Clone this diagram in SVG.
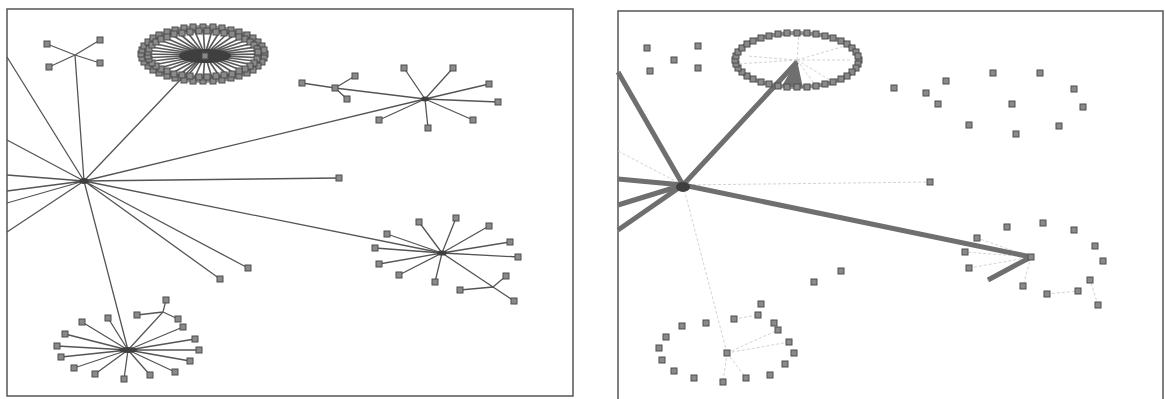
<svg xmlns="http://www.w3.org/2000/svg" xmlns:xlink="http://www.w3.org/1999/xlink" width="1165" height="399" viewBox="0 0 1165 399">
<style>
.frame{fill:none;stroke:#555;stroke-width:1.5}
.edge{fill:none;stroke:#555;stroke-width:1.3}
.spoke{fill:none;stroke:#5a5a5a;stroke-width:1.7}
.thick{fill:none;stroke:#6f6f6f;stroke-width:5;stroke-linejoin:round}
.faint{fill:none;stroke:#d4d4d4;stroke-width:1;stroke-dasharray:3 2}
.band{fill:none;stroke:#8f8f8f}
.node{fill:#8a8a8a;stroke:#4d4d4d;stroke-width:1}
.hub{fill:#3f3f3f}
</style>
<defs>
<rect id="n" x="-3" y="-3" width="6" height="6" class="node"/>
</defs>
<rect width="1165" height="399" fill="#fff"/>
<g id="frames">
<rect class="frame" x="7" y="9" width="566" height="387"/>
<rect class="frame" x="618" y="11" width="545" height="390"/>
</g>
<g id="connectors">
<ellipse class="band" cx="203" cy="54" rx="59" ry="25" stroke-width="8"/>
<ellipse class="band" cx="797" cy="60" rx="62" ry="27" stroke-width="4"/>
<path class="edge" d="M84 181L7 57M84 181L7 140M84 181L7 175M84 181L7 191M84 181L7 203M84 181L7 232M84 181L75 55M84 181L203 56M84 181L425 99M84 181L339 178M84 181L442 253M84 181L248 268M84 181L220 279M84 181L128 350"/>
<path class="edge" d="M75 55L47 44M75 55L100 40M75 55L49 67M75 55L100 63"/>
<path class="edge" d="M425 99L404 68M425 99L453 68M425 99L489 84M425 99L498 102M425 99L473 120M425 99L428 128M425 99L379 120M425 99L335 88L302 83M335 88L355 76M335 88L347 99"/>
<path class="edge" d="M442 253L419 222M442 253L456 218M442 253L489 226M442 253L510 242M442 253L518 257M442 253L493 287L514 301M493 287L506 276M493 287L460 290M442 253L387 234M442 253L375 248M442 253L379 264M442 253L399 275M442 253L435 282"/>
<path class="edge" d="M128 350L82 322M128 350L108 318M128 350L65 334M128 350L57 346M128 350L61 357M128 350L74 368M128 350L95 374M128 350L124 379M128 350L150 375M128 350L175 372M128 350L190 361M128 350L199 350M128 350L195 339M128 350L183 327M128 350L163 312L166 300M163 312L137 315M163 312L178 319"/>
<path class="spoke" d="M205 55L265 54M205 55L264 58M205 55L262 62M205 55L258 66M205 55L253 70M205 55L247 73M205 55L239 76M205 55L231 78M205 55L222 80M205 55L213 81M205 55L203 81M205 55L193 81M205 55L184 80M205 55L175 78M205 55L167 76M205 55L159 73M205 55L153 70M205 55L148 66M205 55L144 62M205 55L142 58M205 55L141 54M205 55L142 50M205 55L144 46M205 55L148 42M205 55L153 38M205 55L159 35M205 55L167 32M205 55L175 30M205 55L184 28M205 55L193 27M205 55L203 27M205 55L213 27M205 55L222 28M205 55L231 30M205 55L239 32M205 55L247 35M205 55L253 38M205 55L258 42M205 55L262 46M205 55L264 50"/>
<path class="faint" d="M797 60L736 64M797 60L747 56M797 60L799 33M797 60L845 46M797 60L833 82M797 60L816 86M797 60L852 60M683 185L618 151M683 185L727 353M683 185L930 182M727 353L778 330M727 353L789 342M727 353L723 382M727 353L746 378M734 319L758 315M1031 257L965 252M1031 257L977 238M1031 257L969 268M1031 257L1023 286M1047 294L1078 291M1098 305L1090 280"/>
<path class="thick" d="M683 185L618 72M683 185L797 62M683 185L618 179M683 185L618 205M683 185L618 230M683 185L1031 257L988 280"/>
<polygon points="782,86 797,60 803,88" fill="#6f6f6f"/>
</g>
<g id="hubs">
<ellipse class="hub" cx="84" cy="181" rx="5" ry="3"/>
<ellipse class="hub" cx="205" cy="56" rx="26" ry="7"/>
<ellipse class="hub" cx="425" cy="99" rx="4" ry="2.5"/>
<ellipse class="hub" cx="442" cy="253" rx="5" ry="2.5"/>
<ellipse class="hub" cx="128" cy="350" rx="9" ry="3"/>
<ellipse class="hub" cx="683" cy="187" rx="7" ry="5" fill="#777"/>
</g>
<g id="left-star">
<use id="l1" href="#n" x="47" y="44"/><use id="l2" href="#n" x="100" y="40"/><use id="l3" href="#n" x="49" y="67"/><use id="l4" href="#n" x="100" y="63"/>
</g>
<g id="left-ellipse">
<use href="#n" x="265" y="54"/><use href="#n" x="264" y="58"/><use href="#n" x="262" y="62"/><use href="#n" x="258" y="66"/><use href="#n" x="253" y="70"/><use href="#n" x="247" y="73"/><use href="#n" x="239" y="76"/><use href="#n" x="231" y="78"/><use href="#n" x="222" y="80"/><use href="#n" x="213" y="81"/><use href="#n" x="203" y="81"/>
<use href="#n" x="193" y="81"/><use href="#n" x="184" y="80"/><use href="#n" x="175" y="78"/><use href="#n" x="167" y="76"/><use href="#n" x="159" y="73"/><use href="#n" x="153" y="70"/><use href="#n" x="148" y="66"/><use href="#n" x="144" y="62"/><use href="#n" x="142" y="58"/><use href="#n" x="141" y="54"/>
<use href="#n" x="142" y="50"/><use href="#n" x="144" y="46"/><use href="#n" x="148" y="42"/><use href="#n" x="153" y="38"/><use href="#n" x="159" y="35"/><use href="#n" x="167" y="32"/><use href="#n" x="175" y="30"/><use href="#n" x="184" y="28"/><use href="#n" x="193" y="27"/><use href="#n" x="203" y="27"/>
<use href="#n" x="213" y="27"/><use href="#n" x="222" y="28"/><use href="#n" x="231" y="30"/><use href="#n" x="239" y="32"/><use href="#n" x="247" y="35"/><use href="#n" x="253" y="38"/><use href="#n" x="258" y="42"/><use href="#n" x="262" y="46"/><use href="#n" x="264" y="50"/>
<use href="#n" x="258" y="56"/><use href="#n" x="257" y="59"/><use href="#n" x="254" y="63"/><use href="#n" x="250" y="66"/><use href="#n" x="245" y="69"/><use href="#n" x="239" y="71"/><use href="#n" x="232" y="74"/><use href="#n" x="224" y="75"/><use href="#n" x="216" y="76"/><use href="#n" x="207" y="77"/>
<use href="#n" x="199" y="77"/><use href="#n" x="190" y="76"/><use href="#n" x="182" y="75"/><use href="#n" x="174" y="74"/><use href="#n" x="167" y="71"/><use href="#n" x="161" y="69"/><use href="#n" x="156" y="66"/><use href="#n" x="152" y="63"/><use href="#n" x="149" y="59"/><use href="#n" x="148" y="56"/>
<use href="#n" x="148" y="52"/><use href="#n" x="149" y="49"/><use href="#n" x="152" y="45"/><use href="#n" x="156" y="42"/><use href="#n" x="161" y="39"/><use href="#n" x="167" y="37"/><use href="#n" x="174" y="34"/><use href="#n" x="182" y="33"/><use href="#n" x="190" y="32"/><use href="#n" x="199" y="31"/>
<use href="#n" x="207" y="31"/><use href="#n" x="216" y="32"/><use href="#n" x="224" y="33"/><use href="#n" x="232" y="34"/><use href="#n" x="239" y="37"/><use href="#n" x="245" y="39"/><use href="#n" x="250" y="42"/><use href="#n" x="254" y="45"/><use href="#n" x="257" y="49"/><use href="#n" x="258" y="52"/>
<use href="#n" x="205" y="56"/>
</g>
<g id="left-topright">
<use href="#n" x="404" y="68"/><use href="#n" x="453" y="68"/><use href="#n" x="489" y="84"/><use href="#n" x="498" y="102"/><use href="#n" x="473" y="120"/><use href="#n" x="428" y="128"/><use href="#n" x="379" y="120"/><use href="#n" x="302" y="83"/><use href="#n" x="355" y="76"/><use href="#n" x="347" y="99"/><use href="#n" x="335" y="88"/>
<use href="#n" x="339" y="178"/>
</g>
<g id="left-right">
<use href="#n" x="419" y="222"/><use href="#n" x="456" y="218"/><use href="#n" x="489" y="226"/><use href="#n" x="510" y="242"/><use href="#n" x="518" y="257"/><use href="#n" x="387" y="234"/><use href="#n" x="375" y="248"/><use href="#n" x="379" y="264"/><use href="#n" x="399" y="275"/><use href="#n" x="435" y="282"/><use href="#n" x="506" y="276"/><use href="#n" x="460" y="290"/><use href="#n" x="514" y="301"/>
<use href="#n" x="248" y="268"/><use href="#n" x="220" y="279"/>
</g>
<g id="left-bottom">
<use href="#n" x="82" y="322"/><use href="#n" x="108" y="318"/><use href="#n" x="65" y="334"/><use href="#n" x="57" y="346"/><use href="#n" x="61" y="357"/><use href="#n" x="74" y="368"/><use href="#n" x="95" y="374"/><use href="#n" x="124" y="379"/><use href="#n" x="150" y="375"/><use href="#n" x="175" y="372"/><use href="#n" x="190" y="361"/><use href="#n" x="199" y="350"/><use href="#n" x="195" y="339"/><use href="#n" x="183" y="327"/><use href="#n" x="178" y="319"/><use href="#n" x="166" y="300"/><use href="#n" x="137" y="315"/>
</g>
<g id="right-star">
<use href="#n" x="647" y="48"/><use href="#n" x="698" y="46"/><use href="#n" x="650" y="71"/><use href="#n" x="698" y="68"/><use href="#n" x="674" y="60"/>
</g>
<g id="right-ellipse">
<use href="#n" x="859" y="60"/><use href="#n" x="858" y="64"/><use href="#n" x="856" y="68"/><use href="#n" x="852" y="72"/><use href="#n" x="847" y="76"/><use href="#n" x="841" y="79"/><use href="#n" x="833" y="82"/><use href="#n" x="825" y="84"/><use href="#n" x="816" y="86"/><use href="#n" x="807" y="87"/><use href="#n" x="797" y="87"/>
<use href="#n" x="787" y="87"/><use href="#n" x="778" y="86"/><use href="#n" x="769" y="84"/><use href="#n" x="761" y="82"/><use href="#n" x="753" y="79"/><use href="#n" x="747" y="76"/><use href="#n" x="742" y="72"/><use href="#n" x="738" y="68"/><use href="#n" x="736" y="64"/><use href="#n" x="735" y="60"/>
<use href="#n" x="736" y="56"/><use href="#n" x="738" y="52"/><use href="#n" x="742" y="48"/><use href="#n" x="747" y="44"/><use href="#n" x="753" y="41"/><use href="#n" x="761" y="38"/><use href="#n" x="769" y="36"/><use href="#n" x="778" y="34"/><use href="#n" x="787" y="33"/><use href="#n" x="797" y="33"/>
<use href="#n" x="807" y="33"/><use href="#n" x="816" y="34"/><use href="#n" x="825" y="36"/><use href="#n" x="833" y="38"/><use href="#n" x="841" y="41"/><use href="#n" x="847" y="44"/><use href="#n" x="852" y="48"/><use href="#n" x="856" y="52"/><use href="#n" x="858" y="56"/>
</g>
<g id="right-topright">
<use href="#n" x="894" y="88"/><use href="#n" x="926" y="93"/><use href="#n" x="946" y="81"/><use href="#n" x="938" y="104"/><use href="#n" x="993" y="73"/><use href="#n" x="1040" y="73"/><use href="#n" x="1074" y="89"/><use href="#n" x="1083" y="107"/><use href="#n" x="1012" y="104"/><use href="#n" x="969" y="125"/><use href="#n" x="1016" y="134"/><use href="#n" x="1059" y="126"/>
<use href="#n" x="930" y="182"/>
</g>
<g id="right-right">
<use href="#n" x="1007" y="227"/><use href="#n" x="1043" y="223"/><use href="#n" x="1074" y="230"/><use href="#n" x="1095" y="246"/><use href="#n" x="1103" y="261"/><use href="#n" x="1090" y="280"/><use href="#n" x="1078" y="291"/><use href="#n" x="1098" y="305"/><use href="#n" x="1047" y="294"/><use href="#n" x="1023" y="286"/><use href="#n" x="977" y="238"/><use href="#n" x="965" y="252"/><use href="#n" x="969" y="268"/><use href="#n" x="1031" y="257"/>
<use href="#n" x="814" y="282"/><use href="#n" x="841" y="271"/>
</g>
<g id="right-bottom">
<use href="#n" x="761" y="304"/><use href="#n" x="758" y="315"/><use href="#n" x="734" y="319"/><use href="#n" x="706" y="323"/><use href="#n" x="682" y="326"/><use href="#n" x="666" y="337"/><use href="#n" x="659" y="348"/><use href="#n" x="662" y="360"/><use href="#n" x="674" y="371"/><use href="#n" x="694" y="378"/><use href="#n" x="723" y="382"/><use href="#n" x="746" y="378"/><use href="#n" x="770" y="375"/><use href="#n" x="785" y="364"/><use href="#n" x="794" y="353"/><use href="#n" x="789" y="342"/><use href="#n" x="778" y="330"/><use href="#n" x="774" y="323"/><use href="#n" x="727" y="353"/>
</g>
</svg>
